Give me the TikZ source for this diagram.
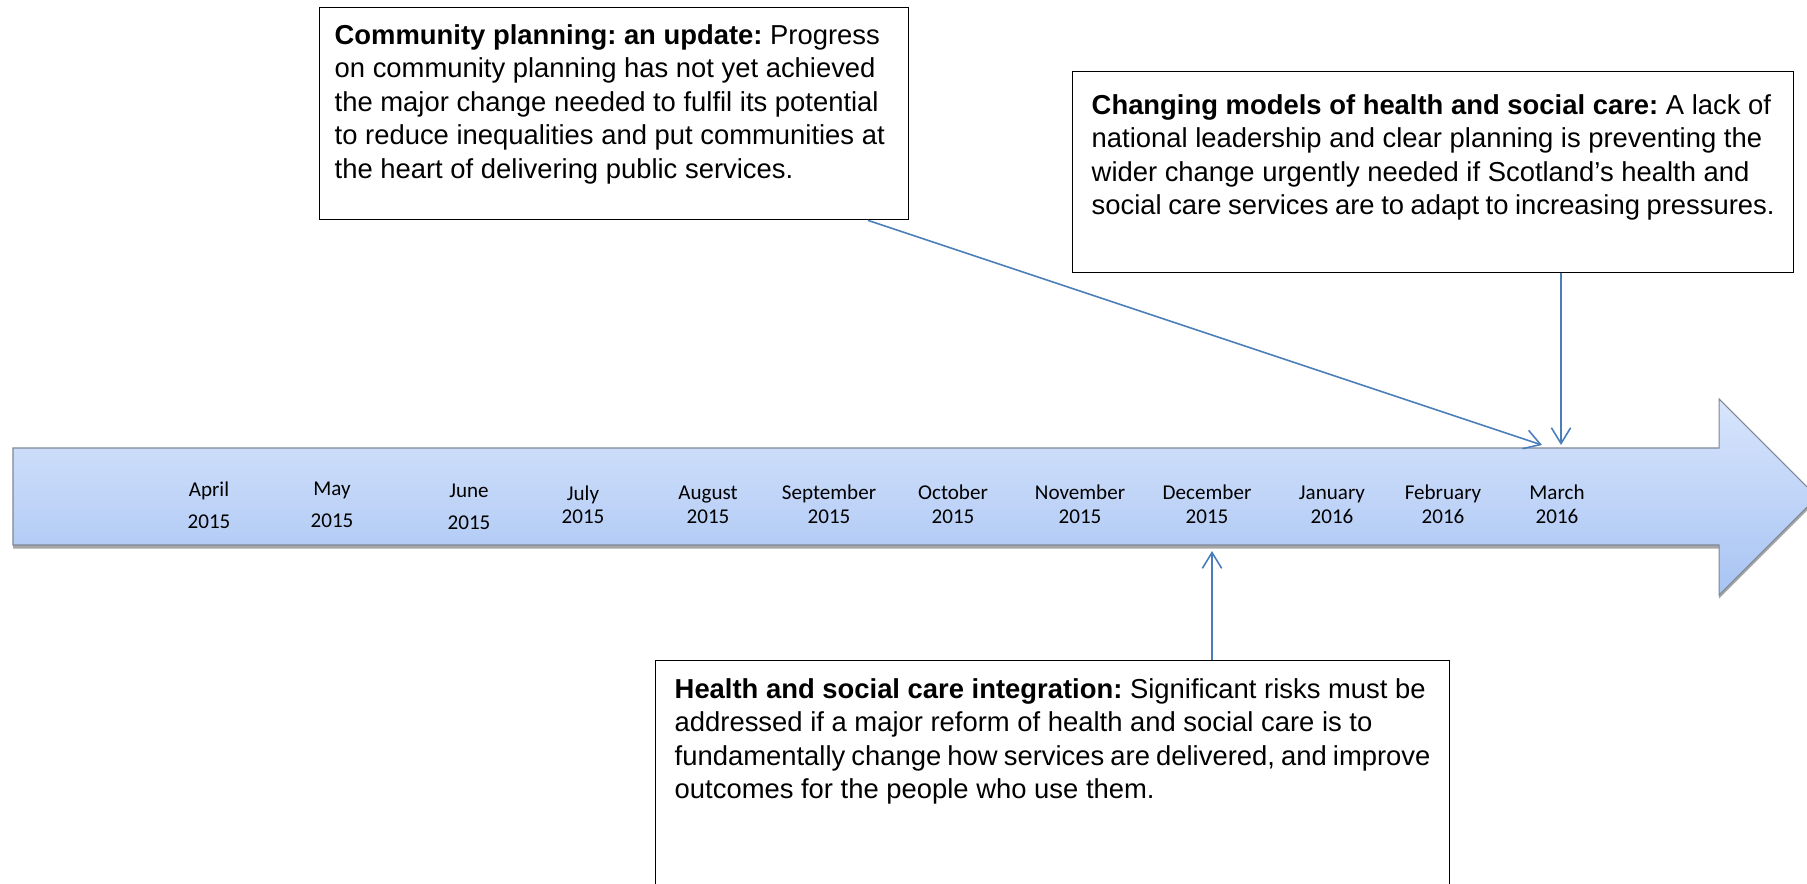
\documentclass[tikz,border=0pt]{standalone}
\usepackage{fontspec}
\setmainfont{Liberation Sans}
\newfontfamily\monthfont{Carlito}
\usetikzlibrary{positioning}
\usetikzlibrary{arrows.meta}
\usetikzlibrary{shadows}
\definecolor{link}{RGB}{74,126,187}
\definecolor{bartop}{RGB}{216,229,252}
\definecolor{barbot}{RGB}{168,196,243}
\definecolor{barline}{RGB}{125,135,150}
\frenchspacing

\tikzset{
	infobox/.style={draw,line width=0.8pt,anchor=north west,align=left,font=\fontsize{15.6}{19}\selectfont},
	month/.style={anchor=base,inner sep=0pt,font=\monthfont\fontsize{12}{14}\selectfont},
	link/.style={draw=link,line width=0.9pt,-{Straight Barb[length=9pt,width=11pt,line width=0.9pt]}}
}

\begin{document}
\begin{tikzpicture}[x=0.02cm,y=-0.02cm]
	\useasboundingbox (0,0) rectangle (1807,883);

    % timeline arrow
	\path[draw=barline,line width=0.6pt,top color=bartop,bottom color=barbot,
		drop shadow={shadow xshift=0pt,shadow yshift=-2pt,opacity=0.35,fill=black}]
		(13,448) -- (1719,448) -- (1719,399) -- (1817,497) -- (1719,595) -- (1719,545) -- (13,545) -- cycle;

    % months
	\foreach \mon/\yr/\x/\ya/\yb [count=\i] in {April/2015/209/496/528,May/2015/332/495/527,June/2015/469/497/529,
		July/2015/583/500/523,August/2015/708/499/523,September/2015/829/499/523,October/2015/953/499/523,
		November/2015/1080/499/523,December/2015/1207/499/523,January/2016/1332/499/523,
		February/2016/1443/499/523,March/2016/1557/499/523}
	{
		\node[month] (mon\i) at (\x,\ya) {\mon};
		\node[month] (yr\i) at (\x,\yb) {\yr};
	}

    % report boxes
	\node[infobox,inner xsep=0.3cm,inner ysep=0.34cm] (cplan) at (319,7)
		{\parbox[c][3.56cm][t]{11.18cm}{\textbf{Community planning: an update:} Progress\\
		on community planning has not yet achieved\\
		the major change needed to fulfil its potential\\
		to reduce inequalities and put communities at\\
		the heart of delivering public services.}};
	\node[infobox,inner xsep=0.38cm,inner ysep=0.46cm] (models) at (1072,71)
		{\parbox[c][3.1cm][t]{13.66cm}{\textbf{Changing models of health and social care:} A lack of\\
		national leadership and clear planning is preventing the\\
		wider change urgently needed if Scotland’s health and\\
		social care services are to adapt to increasing pressures.}};
	\node[infobox,inner xsep=0.38cm,inner ysep=0.36cm] (integ) at (655,660)
		{\parbox[c][4.28cm][t]{15.12cm}{\textbf{Health and social care integration:} Significant risks must be\\
		addressed if a major reform of health and social care is to\\
		fundamentally change how services are delivered, and improve\\
		outcomes for the people who use them.}};

    % connectors
	\coordinate (tipA) at (1542,445);
	\coordinate (tipB) at (1561,445);
	\coordinate (tipC) at (1212,551);
	\coordinate (outA) at (868,0);
	\draw[link] (cplan.south -| outA) -- (tipA);
	\draw[link] (models.south -| tipB) -- (tipB);
	\draw[link] (integ.north -| tipC) -- (tipC);
\end{tikzpicture}
\end{document}
